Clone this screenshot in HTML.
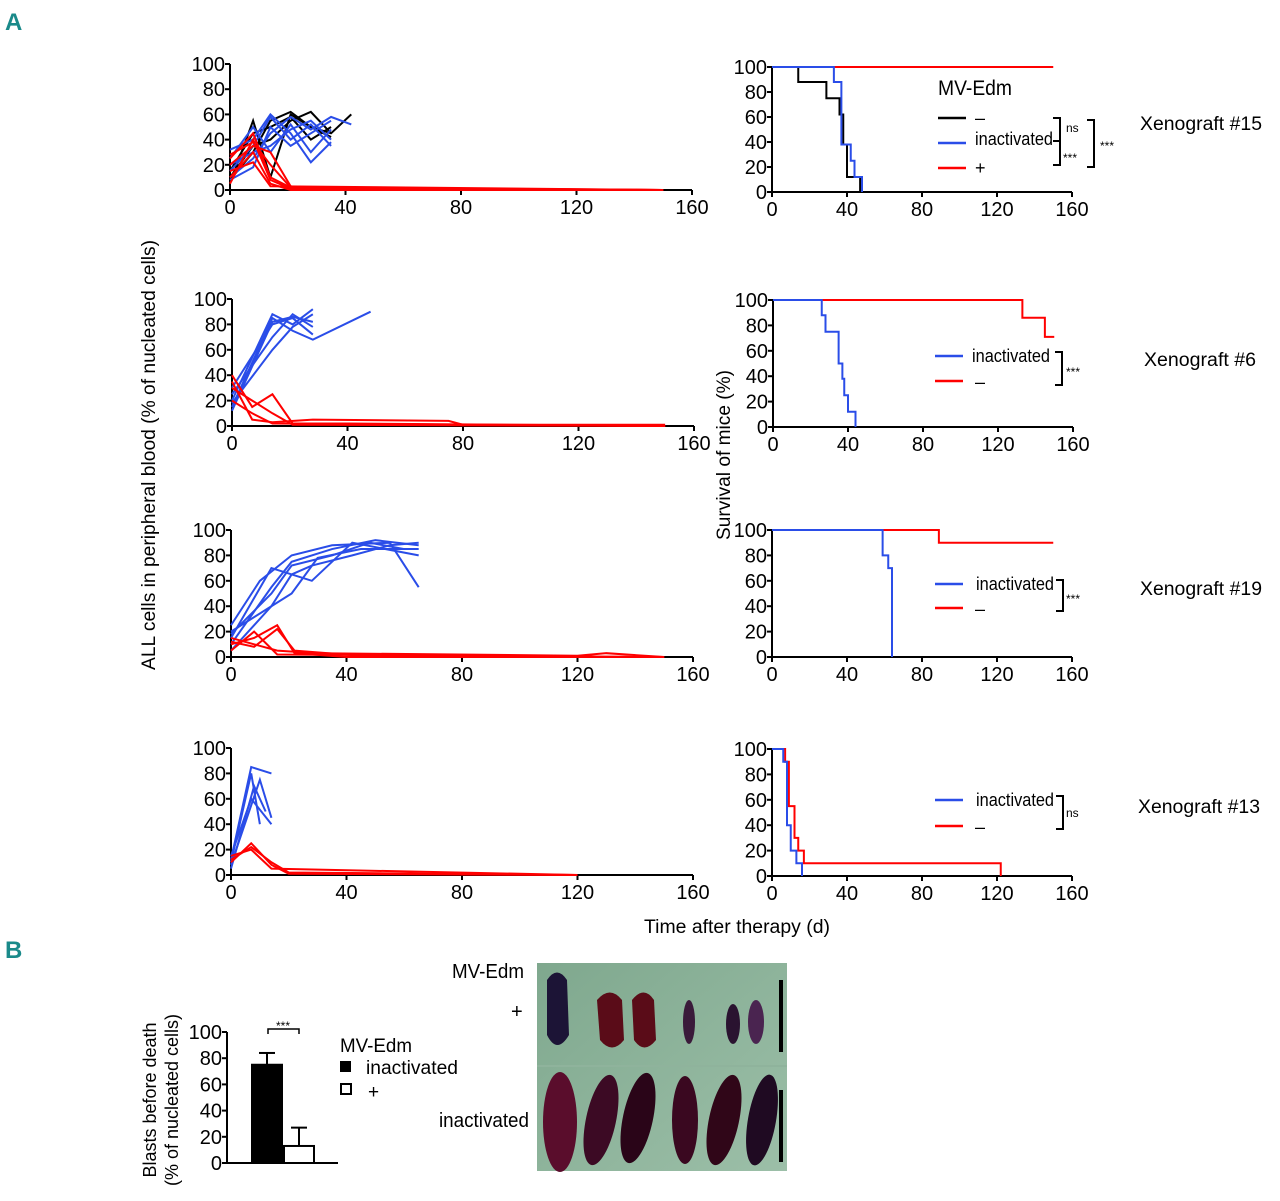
<!DOCTYPE html>
<html><head><meta charset="utf-8">
<style>
html,body{margin:0;padding:0;background:#fff;}
svg{display:block;font-family:"Liberation Sans Narrow","Liberation Sans",sans-serif;}
text{font-stretch:condensed;}
</style></head>
<body>
<svg id="fig" width="1280" height="1201" viewBox="0 0 1280 1201" xmlns="http://www.w3.org/2000/svg">
<defs>
<linearGradient id="bg" x1="0" y1="0" x2="1" y2="1"><stop offset="0" stop-color="#7fa88e"/><stop offset="1" stop-color="#9cbfa8"/></linearGradient>
</defs>
<text x="5" y="30" font-size="24" font-weight="bold" fill="#1a8a8a">A</text>
<text x="5" y="958" font-size="24" font-weight="bold" fill="#1a8a8a">B</text>
<text transform="translate(155,455) rotate(-90)" text-anchor="middle" font-size="19" textLength="430" lengthAdjust="spacingAndGlyphs">ALL cells in peripheral blood (% of nucleated cells)</text>
<text transform="translate(730,455) rotate(-90)" text-anchor="middle" font-size="19" textLength="170" lengthAdjust="spacingAndGlyphs">Survival of mice (%)</text>
<text x="737" y="933" text-anchor="middle" font-size="19" textLength="186" lengthAdjust="spacingAndGlyphs">Time after therapy (d)</text>
<g id="plots"></g>
<g font-size="18">
<text x="938" y="95" font-size="21" textLength="74" lengthAdjust="spacingAndGlyphs">MV-Edm</text>
<line x1="938" y1="118" x2="966" y2="118" stroke="#000" stroke-width="2.5"/><text x="975" y="124">–</text>
<line x1="938" y1="143" x2="966" y2="143" stroke="#2a4de8" stroke-width="2.5"/><text x="975" y="145" textLength="78" lengthAdjust="spacingAndGlyphs">inactivated</text>
<line x1="938" y1="168" x2="966" y2="168" stroke="#f00" stroke-width="2.5"/><text x="975" y="174">+</text>
<path d="M1053,118 H1060 V165 H1053 M1053,141 H1060" fill="none" stroke="#000" stroke-width="2"/>
<text x="1066" y="132" font-size="12">ns</text><text x="1063" y="162" font-size="12">***</text>
<path d="M1087,120 H1094 V167 H1087" fill="none" stroke="#000" stroke-width="2"/>
<text x="1100" y="150" font-size="12">***</text>
</g>
<g font-size="18">
<line x1="935" y1="356" x2="963" y2="356" stroke="#2a4de8" stroke-width="2.5"/><text x="972" y="362" textLength="78" lengthAdjust="spacingAndGlyphs">inactivated</text>
<line x1="935" y1="381" x2="963" y2="381" stroke="#f00" stroke-width="2.5"/><text x="975" y="388">–</text>
<path d="M1055,352 H1062 V385 H1055" fill="none" stroke="#000" stroke-width="2"/><text x="1066" y="376" font-size="12">***</text>
</g>
<g font-size="18">
<line x1="935" y1="584" x2="963" y2="584" stroke="#2a4de8" stroke-width="2.5"/><text x="976" y="590" textLength="78" lengthAdjust="spacingAndGlyphs">inactivated</text>
<line x1="935" y1="608" x2="963" y2="608" stroke="#f00" stroke-width="2.5"/><text x="975" y="615">–</text>
<path d="M1056,580 H1063 V611 H1056" fill="none" stroke="#000" stroke-width="2"/><text x="1066" y="603" font-size="12">***</text>
</g>
<g font-size="18">
<line x1="935" y1="800" x2="963" y2="800" stroke="#2a4de8" stroke-width="2.5"/><text x="976" y="806" textLength="78" lengthAdjust="spacingAndGlyphs">inactivated</text>
<line x1="935" y1="826" x2="963" y2="826" stroke="#f00" stroke-width="2.5"/><text x="975" y="833">–</text>
<path d="M1056,796 H1063 V829 H1056" fill="none" stroke="#000" stroke-width="2"/><text x="1066" y="817" font-size="12">ns</text>
</g>
<g font-size="19">
<text x="1140" y="130" textLength="122" lengthAdjust="spacingAndGlyphs">Xenograft #15</text>
<text x="1144" y="366" textLength="112" lengthAdjust="spacingAndGlyphs">Xenograft #6</text>
<text x="1140" y="595" textLength="122" lengthAdjust="spacingAndGlyphs">Xenograft #19</text>
<text x="1138" y="813" textLength="122" lengthAdjust="spacingAndGlyphs">Xenograft #13</text>
</g>
<g font-size="19">
<text x="340" y="1052" textLength="72" lengthAdjust="spacingAndGlyphs">MV-Edm</text>
<rect x="340" y="1061" width="11" height="11" fill="#000"/><text x="366" y="1074" textLength="92" lengthAdjust="spacingAndGlyphs">inactivated</text>
<rect x="341" y="1084" width="10" height="10" fill="#fff" stroke="#000" stroke-width="2"/><text x="368" y="1098">+</text>
</g>
<text transform="translate(156,1100) rotate(-90)" text-anchor="middle" font-size="18">Blasts before death</text>
<text transform="translate(178,1100) rotate(-90)" text-anchor="middle" font-size="18">(% of nucleated cells)</text>
<g>
<rect x="537" y="963" width="250" height="208" fill="url(#bg)"/>
<line x1="537" y1="1066" x2="787" y2="1066" stroke="#8fb39c" stroke-width="2"/>
<path d="M547,980 Q557,965 567,980 L569,1035 Q557,1055 547,1035 Z" fill="#1c1436"/>
<path d="M597,1000 Q610,985 622,1000 L624,1040 Q612,1055 600,1040 Z" fill="#5a0c18"/>
<path d="M632,1000 Q644,985 654,1000 L656,1040 Q644,1055 634,1040 Z" fill="#5a0c18"/>
<ellipse cx="689" cy="1022" rx="6" ry="22" fill="#3a1a3a"/>
<ellipse cx="733" cy="1024" rx="7" ry="20" fill="#2a1330"/>
<ellipse cx="756" cy="1022" rx="8" ry="22" fill="#4a2450"/>
<ellipse cx="560" cy="1122" rx="17" ry="50" fill="#5a0d2c"/>
<ellipse cx="601" cy="1120" rx="15" ry="46" fill="#3c0a24" transform="rotate(12 601 1120)"/>
<ellipse cx="638" cy="1118" rx="15" ry="46" fill="#2a0518" transform="rotate(12 638 1118)"/>
<ellipse cx="685" cy="1120" rx="13" ry="44" fill="#3a0820"/>
<ellipse cx="724" cy="1120" rx="15" ry="46" fill="#300618" transform="rotate(12 724 1120)"/>
<ellipse cx="762" cy="1120" rx="14" ry="46" fill="#1f0a22" transform="rotate(10 762 1120)"/>
<rect x="779" y="980" width="4" height="72" fill="#000"/>
<rect x="779" y="1090" width="4" height="72" fill="#000"/>
</g>
<g font-size="20">
<text x="452" y="978" textLength="72" lengthAdjust="spacingAndGlyphs">MV-Edm</text>
<text x="511" y="1018">+</text>
<text x="439" y="1127" textLength="90" lengthAdjust="spacingAndGlyphs">inactivated</text>
</g>
</svg>
<script>
const xTicks=[0,40,80,120,160];
const yTicks=[0,20,40,60,80,100];
const p15Black=[[[0,5],[8,55],[14,10],[21,60],[28,50],[35,45],[42,60]],[[0,10],[8,35],[14,40],[21,55],[28,62],[35,45]],[[0,15],[8,45],[14,50],[21,58],[28,40],[35,50]],[[0,8],[8,30],[14,55],[21,62],[28,50],[35,42]]];
const p15Blue=[[[0,32],[8,40],[14,60],[21,45],[28,22],[35,38]],[[0,10],[8,25],[14,45],[21,58],[28,48],[35,58],[42,52]],[[0,20],[8,30],[14,35],[21,48],[28,55],[35,40]],[[0,8],[8,18],[14,50],[21,35],[28,45],[35,55]],[[0,25],[8,50],[14,30],[21,52],[28,30],[35,48]],[[0,15],[8,35],[14,58],[21,40],[28,52],[35,35]]];
const p15Red=[[[0,25],[8,45],[14,10],[21,2],[28,0],[150,0]],[[0,20],[8,35],[14,30],[21,3],[28,0],[90,1],[150,0]],[[0,10],[8,30],[14,5],[21,0],[150,0]],[[0,5],[8,40],[14,8],[21,1],[150,0]],[[0,28],[8,38],[14,20],[21,2],[150,0]],[[0,15],[8,22],[14,3],[150,0]]];
const p6Blue=[[[0,20],[14,88],[21,80],[28,92]],[[0,15],[14,85],[21,75],[28,68],[48,90]],[[0,25],[14,70],[21,88],[28,78]],[[0,30],[14,80],[21,85],[28,72]],[[0,12],[14,82],[21,86],[28,82]],[[0,18],[14,60],[21,78],[28,88]]];
const p6Red=[[[0,40],[7,15],[14,25],[21,2],[40,2],[150,0]],[[0,35],[7,5],[14,3],[28,5],[75,4],[80,1],[150,1]],[[0,20],[7,10],[14,2],[150,0]],[[0,30],[7,20],[14,10],[21,1],[150,0]]];
const p19Blue=[[[0,10],[14,55],[21,75],[35,85],[50,92],[65,88]],[[0,25],[10,60],[21,80],[35,88],[55,90],[65,55]],[[0,15],[14,70],[28,60],[42,90],[65,80]],[[0,20],[21,50],[30,78],[45,85],[65,85]],[[0,5],[14,40],[21,65],[28,72],[42,80],[55,88],[65,90]],[[0,18],[14,50],[21,72],[35,80],[48,90],[60,85]]];
const p19Red=[[[0,10],[8,15],[16,25],[22,3],[40,0],[150,0]],[[0,15],[8,10],[16,5],[30,3],[120,1],[130,3],[150,0]],[[0,5],[8,20],[16,2],[150,0]],[[0,12],[8,8],[16,22],[22,5],[45,1],[150,0]]];
const p13Blue=[[[0,10],[7,80],[10,40]],[[0,12],[7,85],[14,80]],[[0,8],[10,75],[14,45]],[[0,15],[7,60],[14,40]],[[0,5],[8,70],[12,50]]];
const p13Red=[[[0,10],[7,25],[14,8],[20,1],[120,0]],[[0,15],[7,20],[14,5],[120,0]],[[0,12],[7,22],[14,10],[20,2],[120,0]]];
const s15Black=[[0,100],[14,88],[29,75],[36,62],[38,38],[40,12],[47,0]];
const s15Blue=[[0,100],[33,88],[37,38],[42,25],[44,12],[48,0]];
const s15Red=[[0,100],[150,100]];
const s6Blue=[[0,100],[26,88],[28,75],[35,50],[37,38],[38,25],[40,12],[44,0]];
const s6Red=[[0,100],[133,86],[145,71],[150,71]];
const s19Blue=[[0,100],[59,80],[62,70],[64,0]];
const s19Red=[[0,100],[89,90],[150,90]];
const s13Blue=[[0,100],[6,90],[8,40],[10,20],[13,10],[16,0]];
const s13Red=[[0,100],[7,90],[9,55],[12,30],[14,20],[17,10],[122,10],[122,0]];
const barCats=["inactivated","+"];
const barVals=[75,13];
const barErr=[9,14];
const barTicks=[0,20,40,60,80,100];

const NS="http://www.w3.org/2000/svg";
const root=document.getElementById('plots');
function el(tag,attrs,parent){const e=document.createElementNS(NS,tag);for(const k in attrs)e.setAttribute(k,attrs[k]);(parent||root).appendChild(e);return e;}
function axes(name,x0,x1,y0,y100,xmax,font){
  const g=el('g',{});
  
  
  const sx=v=>x0+(x1-x0)*v/xmax, sy=v=>y0+(y100-y0)*v/100;
  el('path',{d:`M${x0},${y100} V${y0} H${x1}`,fill:'none',stroke:'#000','stroke-width':2},g);
  yTicks.forEach(t=>{el('line',{x1:x0-5,x2:x0,y1:sy(t),y2:sy(t),stroke:'#000','stroke-width':2},g);
    const tx=el('text',{x:x0-5,y:sy(t)+7,'text-anchor':'end','font-size':font},g);tx.textContent=t;});
  xTicks.forEach(t=>{el('line',{x1:sx(t),x2:sx(t),y1:y0,y2:y0+5,stroke:'#000','stroke-width':2},g);
    const tx=el('text',{x:sx(t),y:y0+24,'text-anchor':'middle','font-size':font},g);tx.textContent=t;});
  return {g,sx,sy};
}
function lines(ax,series,color,name){
  series.forEach(s=>{const p=el('polyline',{points:s.map(d=>ax.sx(d[0])+','+ax.sy(d[1])).join(' '),fill:'none',stroke:color,'stroke-width':2},ax.g);
    
    });
}
function steps(ax,s,color,name){
  let d=`M${ax.sx(s[0][0])},${ax.sy(s[0][1])}`;
  for(let i=1;i<s.length;i++){d+=` H${ax.sx(s[i][0])} V${ax.sy(s[i][1])}`;}
  const p=el('path',{d:d,fill:'none',stroke:color,'stroke-width':2},ax.g);
  
  
}
const BL='#000',BU='#2a4de8',RD='#f00';
let a=axes('blasts-chart-x15',230,692,190,64,160,20);
lines(a,p15Black,BL,'line-x15-untreated');lines(a,p15Blue,BU,'line-x15-inactivated');lines(a,p15Red,RD,'line-x15-mvedm');
a=axes('blasts-chart-x6',232,694,426,299,160,20);
lines(a,p6Blue,BU,'line-x6-inactivated');lines(a,p6Red,RD,'line-x6-untreated');
a=axes('blasts-chart-x19',231,693,657,530,160,20);
lines(a,p19Blue,BU,'line-x19-inactivated');lines(a,p19Red,RD,'line-x19-untreated');
a=axes('blasts-chart-x13',231,693,875,748,160,20);
lines(a,p13Blue,BU,'line-x13-inactivated');lines(a,p13Red,RD,'line-x13-untreated');
a=axes('survival-chart-x15',772,1072,192,67,160,20);
steps(a,s15Red,RD,'survival-x15-mvedm');steps(a,s15Black,BL,'survival-x15-untreated');steps(a,s15Blue,BU,'survival-x15-inactivated');
a=axes('survival-chart-x6',773,1073,427,300,160,20);
steps(a,s6Red,RD,'survival-x6-untreated');steps(a,s6Blue,BU,'survival-x6-inactivated');
a=axes('survival-chart-x19',772,1072,657,530,160,20);
steps(a,s19Red,RD,'survival-x19-untreated');steps(a,s19Blue,BU,'survival-x19-inactivated');
a=axes('survival-chart-x13',772,1072,876,749,160,20);
steps(a,s13Red,RD,'survival-x13-untreated');steps(a,s13Blue,BU,'survival-x13-inactivated');
(function(){
  const g=el('g',{});
  
  
  const x0=227,y0=1163,y100=1032,sy=v=>y0+(y100-y0)*v/100;
  el('path',{d:`M${x0},${y100} V${y0} H338`,fill:'none',stroke:'#000','stroke-width':2},g);
  barTicks.forEach(t=>{el('line',{x1:x0-5,x2:x0,y1:sy(t),y2:sy(t),stroke:'#000','stroke-width':2},g);
    const tx=el('text',{x:x0-5,y:sy(t)+7,'text-anchor':'end','font-size':20},g);tx.textContent=t;});
  const bx=[252,284];
  barVals.forEach((v,i)=>{
    const cx=bx[i]+15;
    el('line',{x1:cx,x2:cx,y1:sy(v),y2:sy(v+barErr[i]),stroke:'#000','stroke-width':2},g);
    el('line',{x1:cx-8,x2:cx+8,y1:sy(v+barErr[i]),y2:sy(v+barErr[i]),stroke:'#000','stroke-width':2},g);
    const r=el('rect',{x:bx[i],y:sy(v),width:30,height:y0-sy(v),fill:i?'#fff':'#000',stroke:'#000','stroke-width':2},g);
    
    
  });
  el('path',{d:'M268,1034 V1029 H299 V1034',fill:'none',stroke:'#000','stroke-width':1.5},g);
  const s=el('text',{x:283,y:1030,'text-anchor':'middle','font-size':12},g);s.textContent='***';
})();
</script>
</body></html>
